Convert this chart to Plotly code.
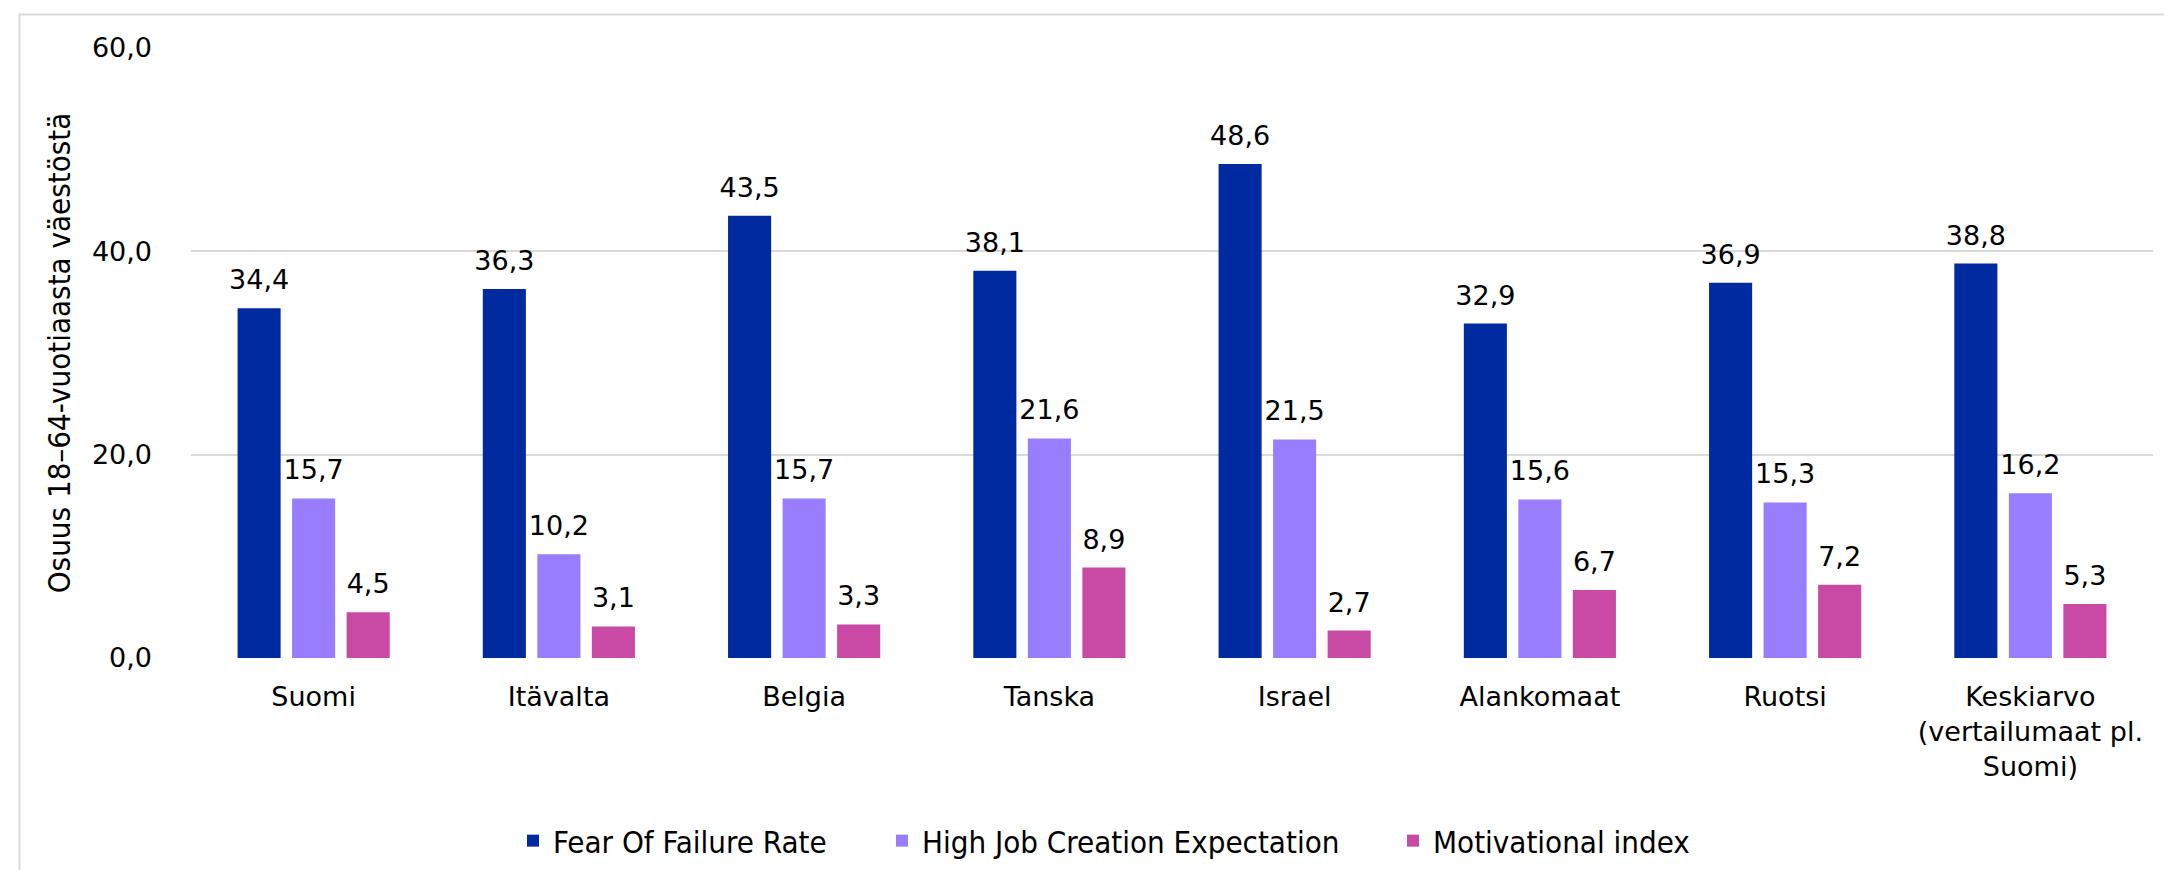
import plotly.graph_objects as go

categories = ["Suomi", "Itävalta", "Belgia", "Tanska", "Israel", "Alankomaat", "Ruotsi",
              "Keskiarvo<br>(vertailumaat pl.<br>Suomi)"]
fear_of_failure = [34.4, 36.3, 43.5, 38.1, 48.6, 32.9, 36.9, 38.8]
high_job_creation = [15.7, 10.2, 15.7, 21.6, 21.5, 15.6, 15.3, 16.2]
motivational_index = [4.5, 3.1, 3.3, 8.9, 2.7, 6.7, 7.2, 5.3]
series_names = ["Fear Of Failure Rate", "High Job Creation Expectation", "Motivational index"]
y_ticks = [0, 20, 40, 60]

colors = ["#002AA0", "#997DFF", "#C84AA5"]
MAIN_FONT = "DejaVu Sans"
COND_FONT = "DejaVu Sans Condensed"

series = [fear_of_failure, high_job_creation, motivational_index]
legend_ids = ["legend", "legend2", "legend3"]

fig = go.Figure()
for i, (name, vals, col) in enumerate(zip(series_names, series, colors)):
    fig.add_trace(go.Bar(
        x=categories, y=vals, name=name, offsetgroup=str(i),
        marker=dict(color=col, line=dict(width=0)),
        legend=legend_ids[i], hoverinfo="skip",
    ))
# value labels, aligned with the grouped bars
for i, vals in enumerate(series):
    fig.add_trace(go.Scatter(
        x=categories, y=vals, offsetgroup=str(i), showlegend=False,
        mode="markers+text", marker=dict(size=18, opacity=0),
        texttemplate="%{y:.1f}", textposition="top center",
        textfont=dict(family=MAIN_FONT, size=27, color="#000000"),
        cliponaxis=False, hoverinfo="skip",
    ))

W, H = 2172, 870
L, R, T, B = 183, 27, 40, 220
pw = W - L - R
ph = H - T - B

legend_starts = [505, 874, 1385]
legend_common = dict(
    orientation="h", xref="container", yref="container",
    xanchor="left", y=1 - 833 / H, yanchor="middle",
    font=dict(family=COND_FONT, size=31, color="#000000"),
    itemwidth=30, bgcolor="rgba(0,0,0,0)", borderwidth=0,
)

fig.update_layout(
    width=W, height=H,
    margin=dict(l=L, r=R, t=T, b=B, autoexpand=False),
    paper_bgcolor="white", plot_bgcolor="white",
    separators=", ",
    barmode="group", bargap=0.333, bargroupgap=0.21,
    scattermode="group", scattergap=0.333,
    font=dict(family=MAIN_FONT, size=27, color="#000000"),
    showlegend=True,
    legend=dict(x=legend_starts[0] / W, **legend_common),
    legend2=dict(x=legend_starts[1] / W, **legend_common),
    legend3=dict(x=legend_starts[2] / W, **legend_common),
    yaxis=dict(
        range=[0, 60], tickvals=y_ticks, tickformat=".1f",
        showgrid=True, gridcolor="#D9D9D9", gridwidth=2,
        zeroline=False, showline=False, ticks="",
        ticklabelstandoff=38,
        tickfont=dict(family=MAIN_FONT, size=27),
        title=dict(text="Osuus 18–64-vuotiaasta väestöstä",
                   font=dict(family=COND_FONT, size=31), standoff=12),
    ),
    xaxis=dict(
        showgrid=False, zeroline=False, showline=False, ticks="",
        ticklabelstandoff=20,
        tickfont=dict(family=MAIN_FONT, size=27),
    ),
    shapes=[dict(
        type="rect", xref="paper", yref="paper",
        x0=(11.5 - L) / pw, x1=(W + 10 - L) / pw,
        y0=(H - B - (H + 10)) / ph, y1=(H - B - 6.5) / ph,
        line=dict(color="#D9D9D9", width=2), fillcolor="rgba(0,0,0,0)", layer="below",
    )],
)

fig.write_html("out.html")
